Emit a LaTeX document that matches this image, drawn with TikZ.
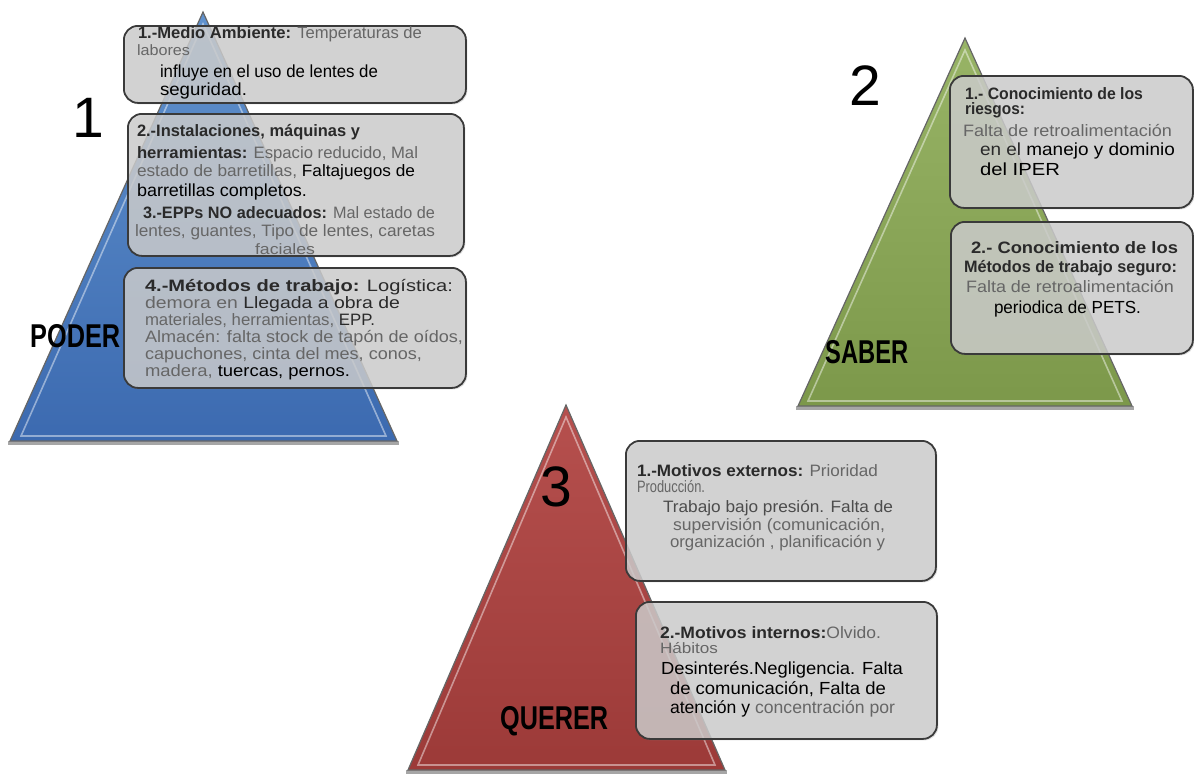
\documentclass[tikz,border=0pt]{standalone}
\usepackage{fontspec}
\setmainfont{Liberation Sans}
\usepackage{graphicx}
\usetikzlibrary{shadows}
\newsavebox\fitbox
\newcommand\fitl[2]{\sbox\fitbox{#2}\pgfmathsetmacro\fitsx{#1/(\the\wd\fitbox)}\scalebox{\fitsx}[1]{\usebox\fitbox}}
\definecolor{gtext}{HTML}{666666}
\definecolor{htext}{HTML}{2A2A2A}
\definecolor{boxfill}{HTML}{CFCFCF}
\definecolor{boxborder}{HTML}{3A3A3A}
\definecolor{bluetop}{RGB}{96,146,206}
\definecolor{bluebot}{RGB}{60,106,176}
\definecolor{greentop}{RGB}{152,180,102}
\definecolor{greenbot}{RGB}{124,152,74}
\definecolor{redtop}{RGB}{182,80,78}
\definecolor{redbot}{RGB}{156,58,56}
\newcommand\gt[1]{\textcolor{gtext}{#1}}
\newcommand\hdg[1]{\textcolor{htext}{\bfseries #1}}
\newcommand\fsL{\fontsize{17.5}{19}\selectfont}
\newcommand\fsM{\fontsize{16.5}{18}\selectfont}
\newcommand\fsS{\fontsize{15}{16}\selectfont}
\tikzset{
  tline/.style={anchor=base west, inner sep=0pt, outer sep=0pt},
  infobox/.style={anchor=north west, draw=boxborder, line width=1.8pt, rounded corners=14pt,
     fill=boxfill, fill opacity=0.8, inner sep=0pt,
     drop shadow={opacity=0.25, shadow xshift=1.5pt, shadow yshift=-1.5pt}},
  bignum/.style={inner sep=0pt, font=\fontsize{57}{60}\selectfont},
  title/.style={anchor=base west, inner sep=0pt, font=\fontsize{33}{35}\selectfont\bfseries},
  triedge/.style={draw=black!60, line width=1.2pt},
  trihi/.style={draw=white, draw opacity=0.45, line width=1.6pt},
}
\begin{document}
\begin{tikzpicture}[x=1pt,y=-1pt]
\useasboundingbox (0,0) rectangle (1194,774);
% triangles
\fill[black, opacity=0.35] (8,441) -- (399,441) -- (399,445) -- (8,445) -- cycle;
\shade[top color=bluetop, bottom color=bluebot] (203,12) -- (397,441) -- (10,441) -- cycle;
\draw[triedge] (203,12) -- (397,441) -- (10,441) -- cycle;
\draw[trihi] (203,24) -- (386,436) -- (21,436) -- cycle;

\fill[black, opacity=0.35] (796,406) -- (1134,406) -- (1134,410) -- (796,410) -- cycle;
\shade[top color=greentop, bottom color=greenbot] (965,38) -- (1132,406) -- (798,406) -- cycle;
\draw[triedge] (965,38) -- (1132,406) -- (798,406) -- cycle;
\draw[trihi] (965,50) -- (1122,401) -- (808,401) -- cycle;

\fill[black, opacity=0.35] (406,770) -- (727,770) -- (727,774) -- (406,774) -- cycle;
\shade[top color=redtop, bottom color=redbot] (566,405) -- (725,770) -- (408,770) -- cycle;
\draw[triedge] (566,405) -- (725,770) -- (408,770) -- cycle;
\draw[trihi] (566,417) -- (715,765) -- (418,765) -- cycle;

% big numbers and titles
\node[bignum] (n1) at (88,118) {1};
\node[bignum] (n2) at (865,86) {2};
\node[bignum] (n3) at (556,487) {3};
\node[title] (poder) at (30,347) {\fitl{90}{PODER}};
\node[title] (saber) at (825,363) {\fitl{83}{SABER}};
\node[title] (querer) at (500,729) {\fitl{108}{QUERER}};

% boxes
\node[infobox, minimum width=342pt, minimum height=77pt] (b1a) at (123,25) {};
\node[infobox, minimum width=336pt, minimum height=142pt] (b1b) at (127,113) {};
\node[infobox, minimum width=342pt, minimum height=120pt] (b1c) at (123,267) {};
\node[infobox, minimum width=243pt, minimum height=132pt] (b2a) at (949,75) {};
\node[infobox, minimum width=242pt, minimum height=132pt] (b2b) at (950,221) {};
\node[infobox, minimum width=310pt, minimum height=140pt] (b3a) at (625,440) {};
\node[infobox, minimum width=301pt, minimum height=137pt] (b3b) at (635,601) {};

% box 1a
\node[tline, font=\fsM] (t1a1) at (138,38) {\fitl{284}{\hdg{1.-Medio Ambiente:} \gt{Temperaturas de}}};
\node[tline, font=\fsS] (t1a2) at (137,55) {\fitl{53}{\gt{labores}}};
\node[tline, font=\fsL] (t1a3) at (160,77) {\fitl{218}{influye en el uso de lentes de}};
\node[tline, font=\fsL] (t1a4) at (160,95) {\fitl{87}{seguridad.}};
% box 1b
\node[tline, font=\fsM] (t1b1) at (137,136) {\fitl{223}{\hdg{2.-Instalaciones, máquinas y}}};
\node[tline, font=\fsM] (t1b2) at (137,158) {\fitl{281}{\hdg{herramientas:} \gt{Espacio reducido, Mal}}};
\node[tline, font=\fsM] (t1b3) at (137,176) {\fitl{278}{\gt{estado de barretillas,} Faltajuegos de}};
\node[tline, font=\fsL] (t1b4) at (137,196) {\fitl{170}{barretillas completos.}};
\node[tline, font=\fsM] (t1b5) at (143,218) {\fitl{292}{\hdg{3.-EPPs NO adecuados:} \gt{Mal estado de}}};
\node[tline, font=\fsM] (t1b6) at (135,236) {\fitl{300}{\gt{lentes, guantes, Tipo de lentes, caretas}}};
\node[tline, font=\fsS] (t1b7) at (255,254) {\fitl{60}{\gt{faciales}}};
% box 1c
\node[tline, font=\fsM] (t1c1) at (145,291) {\fitl{308}{\hdg{4.-Métodos de trabajo:} \textcolor{htext}{Logística:}}};
\node[tline, font=\fsM] (t1c2) at (145,308) {\fitl{255}{\gt{demora en} \textcolor{htext}{Llegada a obra de}}};
\node[tline, font=\fsM] (t1c3) at (145,325) {\fitl{230}{\gt{materiales, herramientas,} \textcolor{htext}{EPP.}}};
\node[tline, font=\fsM] (t1c4) at (145,342) {\fitl{318}{\gt{Almacén: falta stock de tapón de oídos,}}};
\node[tline, font=\fsM] (t1c5) at (145,359) {\fitl{277}{\gt{capuchones, cinta del mes, conos,}}};
\node[tline, font=\fsM] (t1c6) at (145,376) {\fitl{205}{\gt{madera,} tuercas, pernos.}};
% box 2a
\node[tline, font=\fsM] (t2a1) at (965,99) {\fitl{178}{\hdg{1.- Conocimiento de los}}};
\node[tline, font=\fsM] (t2a2) at (965,114) {\fitl{60}{\hdg{riesgos:}}};
\node[tline, font=\fsM] (t2a3) at (963,136) {\fitl{209}{\gt{Falta de retroalimentación}}};
\node[tline, font=\fsL] (t2a4) at (980,155) {\fitl{195}{\textcolor{htext}{en el} manejo y dominio}};
\node[tline, font=\fsL] (t2a5) at (980,175) {\fitl{80}{del IPER}};
% box 2b
\node[tline, font=\fsM] (t2b1) at (971,253) {\fitl{207}{\hdg{2.- Conocimiento de los}}};
\node[tline, font=\fsM] (t2b2) at (964,272) {\fitl{213}{\hdg{Métodos de trabajo seguro:}}};
\node[tline, font=\fsM] (t2b3) at (966,292) {\fitl{208}{\gt{Falta de retroalimentación}}};
\node[tline, font=\fsL] (t2b4) at (994,313) {\fitl{147}{periodica de PETS.}};
% box 3a
\node[tline, font=\fsM] (t3a1) at (637,476) {\fitl{241}{\hdg{1.-Motivos externos:} \gt{Prioridad}}};
\node[tline, font=\fsM] (t3a2) at (637,492) {\fitl{68}{\gt{Producción.}}};
\node[tline, font=\fsM] (t3a3) at (663,512) {\fitl{230}{\textcolor{black!70}{Trabajo bajo presión. Falta de}}};
\node[tline, font=\fsM] (t3a4) at (673,530) {\fitl{212}{\gt{supervisión (comunicación,}}};
\node[tline, font=\fsM] (t3a5) at (670,547) {\fitl{215}{\gt{organización , planificación y}}};
% box 3b
\node[tline, font=\fsM] (t3b1) at (660,638) {\fitl{221}{\hdg{2.-Motivos internos:}\gt{Olvido.}}};
\node[tline, font=\fsS] (t3b2) at (660,653) {\fitl{58}{\gt{Hábitos}}};
\node[tline, font=\fsL] (t3b3) at (661,674) {\fitl{242}{Desinterés.Negligencia. Falta}};
\node[tline, font=\fsL] (t3b4) at (670,694) {\fitl{216}{de comunicación, Falta de}};
\node[tline, font=\fsL] (t3b5) at (670,713) {\fitl{225}{atención y \gt{concentración por}}};
\end{tikzpicture}
\end{document}
